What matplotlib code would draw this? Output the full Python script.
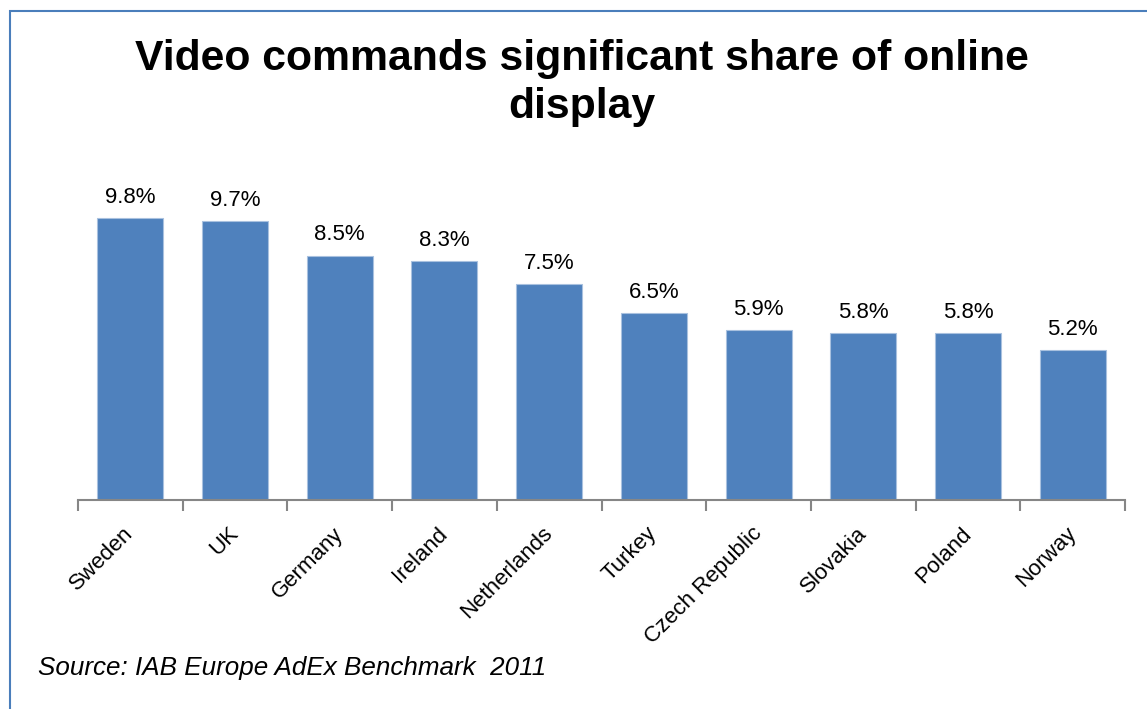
import matplotlib
matplotlib.use("Agg")
import matplotlib.pyplot as plt
import matplotlib.patches as patches

countries = ["Sweden", "UK", "Germany", "Ireland", "Netherlands", "Turkey",
             "Czech Republic", "Slovakia", "Poland", "Norway"]
shares = [9.8, 9.7, 8.5, 8.3, 7.5, 6.5, 5.9, 5.8, 5.8, 5.2]

plt.rcParams['font.family'] = ['Liberation Sans', 'DejaVu Sans']

W, H = 1147, 709
fig = plt.figure(figsize=(W / 100, H / 100), dpi=100)
ax = fig.add_axes([78 / W, 1 - 500 / H, (1125 - 78) / W, 302 / H])

x = range(len(countries))
bars = ax.bar(x, shares, width=0.63, color='#4F81BD', edgecolor='#A9C1DF', linewidth=0.8)
for xi, v in zip(x, shares):
    ax.text(xi, v + 0.35, f"{v:.1f}%", ha='center', va='bottom', fontsize=16)

ax.set_xlim(-0.5, len(countries) - 0.5)
ax.set_ylim(0, 10.5)
ax.set_yticks([])
for s in ['top', 'right', 'left']:
    ax.spines[s].set_visible(False)
ax.spines['bottom'].set_color('#868686')
ax.spines['bottom'].set_linewidth(1.5)

ax.set_xticks(list(x))
ax.set_xticklabels(countries, rotation=45, ha='right', va='center',
                   rotation_mode='anchor', fontsize=16)
ax.tick_params(axis='x', which='major', length=0, pad=22)
ax.set_xticks([i - 0.5 for i in range(len(countries) + 1)], minor=True)
ax.tick_params(axis='x', which='minor', length=8, width=1.5, color='#868686', direction='out')

fig.text(582 / W, 1 - 83 / H, "Video commands significant share of online\ndisplay",
         ha='center', va='center', fontsize=30.8, fontweight='bold', linespacing=1.28)
fig.text(38 / W, 1 - 668 / H, "Source: IAB Europe AdEx Benchmark  2011",
         ha='left', va='center', fontsize=18.7, style='italic')

border = patches.Rectangle((10 / W, -0.1), 1.2, (H - 11) / H + 0.1, transform=fig.transFigure,
                           fill=False, edgecolor='#4A7EBB', linewidth=1.5, clip_on=False)
fig.patches.append(border)

fig.savefig("out.png", dpi=100)
